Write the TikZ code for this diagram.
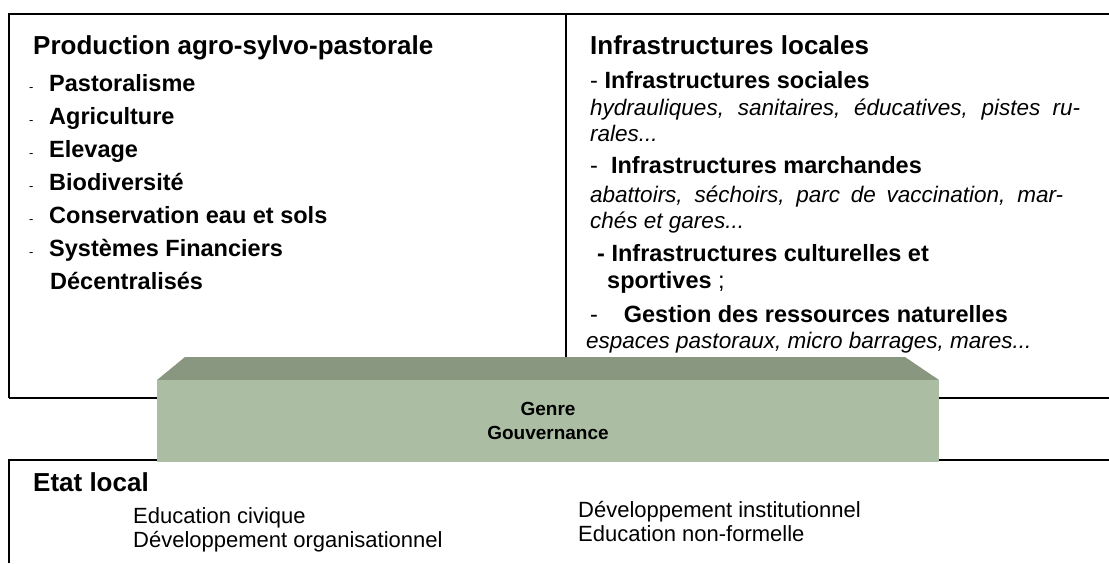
\documentclass[tikz,border=0pt]{standalone}
\usepackage{fontspec}
\setmainfont{Liberation Sans}
\usetikzlibrary{calc}

\definecolor{bandtop}{RGB}{137,150,128}
\definecolor{bandfront}{RGB}{171,190,164}

\tikzset{
  frame/.style={line width=1.5pt},
  head/.style={anchor=base west, inner sep=0pt, font=\bfseries\fontsize{26}{30}\selectfont},
  item/.style={anchor=base west, inner sep=0pt, font=\bfseries\fontsize{23.5}{27}\selectfont},
  note/.style={anchor=base west, inner sep=0pt, font=\itshape\fontsize{22.5}{26}\selectfont},
  plain/.style={anchor=base west, inner sep=0pt, font=\fontsize{22}{25}\selectfont},
  tick/.style={anchor=base west, inner sep=0pt, font=\fontsize{13}{14}\selectfont},
}

\begin{document}
\begin{tikzpicture}[x=1pt,y=-1pt]
\useasboundingbox (0,0) rectangle (1109,563);

\coordinate (box_tl) at (9,14);
\coordinate (box_tr) at (1109,14);
\coordinate (div_t) at (566,14);
\coordinate (div_b) at (566,357);
\coordinate (upper_bl) at (9,398);
\coordinate (lower_tl) at (9,460);
\coordinate (lower_bl) at (9,563);
\coordinate (band_l) at (157,380);
\coordinate (band_r) at (939,462);

% frames of the three fields
\draw[frame] (upper_bl) -- (box_tl) -- (box_tr);
\draw[frame] (div_t) -- (div_b);
\draw[frame] (upper_bl) -- (upper_bl -| band_l);
\draw[frame] (upper_bl -| band_r) -- (upper_bl -| box_tr);
\draw[frame] (lower_bl) -- (lower_tl) -- (lower_tl -| band_l);
\draw[frame] (lower_tl -| band_r) -- (lower_tl -| box_tr);

% the transversal band
\fill[bandtop] (band_l) -- ($(band_l)+(28,-23)$) -- ($(band_r |- band_l)+(-34,-23)$) -- (band_r |- band_l) -- cycle;
\fill[bandfront] (band_l) rectangle (band_r);
\node[align=center, font=\bfseries\fontsize{19}{24}\selectfont] (genre) at ($(band_l)!0.5!(band_r)$) {Genre\\Gouvernance};

% production
\node[head] (prod) at (33,54) {Production agro-sylvo-pastorale};
\foreach \txt [count=\i] in {Pastoralisme,Agriculture,Elevage,Biodiversité,Conservation eau et sols,Systèmes Financiers}{
  \node[tick] (dash\i) at (29,{91+33*(\i-1)}) {-};
  \node[item] (item\i) at (49,{91+33*(\i-1)}) {\txt};
}
\node[item] (item7) at (50,289) {Décentralisés};

% infrastructures
\node[head] (infra) at (590,54) {Infrastructures locales};
\node[item] (soc) at (590,88) {\textmd{-} Infrastructures sociales};
\node[note] (soc_a) at (590,115) {\makebox[490pt][s]{hydrauliques, sanitaires, éducatives, pistes ru-}};
\node[note] (soc_b) at (590,141) {rales...};
\node[item] (mar) at (590,173) {\textmd{-}\ \ Infrastructures marchandes};
\node[note] (mar_a) at (590,202) {\makebox[473pt][s]{abattoirs, séchoirs, parc de vaccination, mar-}};
\node[note] (mar_b) at (590,228) {chés et gares...};
\node[item] (cult) at (597,261) {- Infrastructures culturelles et};
\node[item] (cult_b) at (607,288) {sportives \textmd{;}};
\node[item] (ges) at (590,322) {\textmd{-}\hspace{1.1em}Gestion des ressources naturelles};
\node[note] (ges_a) at (586,348) {espaces pastoraux, micro barrages, mares...};

% etat local
\node[head] (etat) at (33,491) {Etat local};
\node[plain] (civ) at (133,523) {Education civique};
\node[plain] (org) at (133,547) {Développement organisationnel};
\node[plain] (inst) at (578,517) {Développement institutionnel};
\node[plain] (nonf) at (578,541) {Education non-formelle};
\end{tikzpicture}
\end{document}
